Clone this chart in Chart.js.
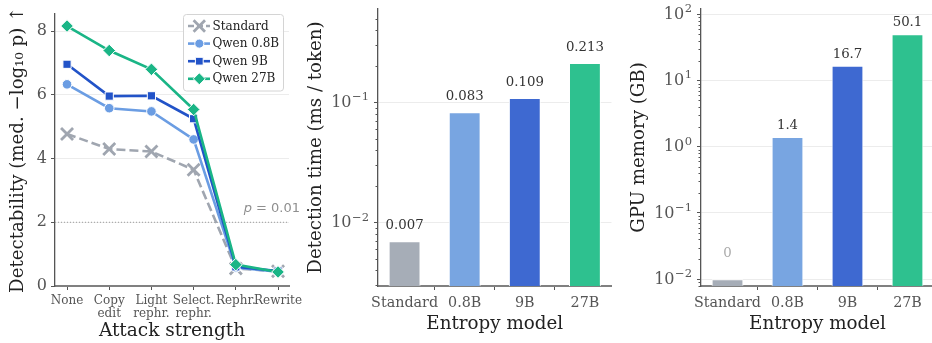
<!DOCTYPE html>
<html>
<head>
<meta charset="utf-8">
<script src="https://cdn.jsdelivr.net/npm/chart.js@4/dist/chart.umd.min.js"></script>
<style>
  html, body { margin: 0; padding: 0; background: #fff; }
  #wrap { position: relative; width: 932px; height: 343px; overflow: hidden; }
  canvas { position: absolute; top: 0; }
</style>
</head>
<body>
<div id="wrap">
  <canvas id="c1" width="310" height="343" style="left:0px"></canvas>
  <canvas id="c2" width="320" height="343" style="left:300px"></canvas>
  <canvas id="c3" width="320" height="343" style="left:620px"></canvas>
</div>
<script>
// ---------------- DATA ----------------
const attackLabels = [['None'], ['Copy', 'edit'], ['Light', 'rephr.'], ['Select.', 'rephr.'], ['Rephr.'], ['Rewrite']];
const seriesNames = ['Standard', 'Qwen 0.8B', 'Qwen 9B', 'Qwen 27B'];
const detStandard = [4.77, 4.30, 4.22, 3.65, 0.55, 0.46];
const detQwen08 = [6.33, 5.58, 5.48, 4.60, 0.58, 0.45];
const detQwen9 = [6.96, 5.96, 5.97, 5.25, 0.60, 0.47];
const detQwen27 = [8.16, 7.39, 6.80, 5.54, 0.67, 0.44];
const detYTicks = [0, 2, 4, 6, 8];
const pThresholdY = 2;          // -log10(0.01)
const pThresholdLabel = '0.01';

const modelLabels = ['Standard', '0.8B', '9B', '27B'];
const detectionTimeMs = [0.007, 0.083, 0.109, 0.213];
const gpuMemoryGB = [0, 1.4, 16.7, 50.1];
const gpuZeroFloor = 0.01;       // where a 0 GB bar is drawn on the log axis
const timeMajorTicks = [0.01, 0.1];
const memMajorTicks = [0.01, 0.1, 1, 10, 100];

// ---------------- STYLE ----------------
const SERIF = "'DejaVu Serif', 'Liberation Serif', serif";
const SANS = "'DejaVu Sans', sans-serif";
const lineColors = ['#a0a6b0', '#6b9de3', '#2253c8', '#1ab586'];
const barColors = ['#a6adb7', '#78a5e1', '#3e69d1', '#2ec18f'];
const TICK_COLOR = '#555';
const TEXT_COLOR = '#222';

function drawMarker(ctx, style, x, y, r, fill, stroke, bw) {
  if (Chart.helpers && Chart.helpers.drawPoint) {
    ctx.save();
    ctx.fillStyle = fill; ctx.strokeStyle = stroke; ctx.lineWidth = bw;
    Chart.helpers.drawPoint(ctx, {pointStyle: style, radius: r, rotation: 0, borderWidth: bw}, x, y);
    ctx.restore();
  }
}

// ---------------- PANEL 1 ----------------
const detSeries = [detStandard, detQwen08, detQwen9, detQwen27];
const pointStyles = ['crossRot', 'circle', 'rect', 'rectRot'];
const pointRadii = [8.5, 4.8, 5.8, 6.3];
const datasets1 = detSeries.map((vals, k) => ({
  label: seriesNames[k],
  data: vals.map((v, i) => ({x: i, y: v})),
  borderColor: lineColors[k],
  backgroundColor: lineColors[k],
  borderWidth: 2.6,
  borderDash: k === 0 ? [9, 4] : [],
  pointStyle: pointStyles[k],
  pointRadius: pointRadii[k],
  pointHoverRadius: pointRadii[k],
  pointBackgroundColor: lineColors[k],
  pointBorderColor: k === 0 ? lineColors[k] : '#ffffff',
  pointBorderWidth: k === 0 ? 2.8 : 1,
  order: 3 - k,
  tension: 0
}));

const thresholdPlugin = {
  id: 'threshold',
  beforeDatasetsDraw(chart) {
    const {ctx, chartArea, scales} = chart;
    const y = scales.y.getPixelForValue(pThresholdY);
    ctx.save();
    ctx.strokeStyle = '#9a9a9a';
    ctx.lineWidth = 1;
    ctx.setLineDash([1, 2]);
    ctx.beginPath();
    ctx.moveTo(chartArea.left, y);
    ctx.lineTo(chartArea.right, y);
    ctx.stroke();
    ctx.setLineDash([]);
    ctx.fillStyle = '#8f8f8f';
    ctx.textBaseline = 'alphabetic';
    ctx.textAlign = 'left';
    const rest = ' = ' + pThresholdLabel;
    ctx.font = '13px ' + SANS;
    const wRest = ctx.measureText(rest).width;
    ctx.font = 'italic 13px ' + SANS;
    const wP = ctx.measureText('p').width;
    const xEnd = chartArea.right + 11;
    const ty = y - 10;
    ctx.fillText('p', xEnd - wRest - wP, ty);
    ctx.font = '13px ' + SANS;
    ctx.fillText(rest, xEnd - wRest, ty);
    ctx.restore();
  }
};

const legendPlugin = {
  id: 'customLegend',
  afterDraw(chart) {
    const {ctx} = chart;
    const bx = 183, by = 14.5, bw = 100, bh = 76.5;
    ctx.save();
    ctx.fillStyle = 'rgba(255,255,255,0.9)';
    ctx.strokeStyle = '#d4d4d4';
    ctx.lineWidth = 1;
    ctx.beginPath();
    if (ctx.roundRect) ctx.roundRect(bx + 0.5, by, bw, bh, 3); else ctx.rect(bx + 0.5, by, bw, bh);
    ctx.fill();
    ctx.stroke();
    chart.data.datasets.forEach((ds, k) => {
      const y = 26 + k * 17.6;
      ctx.strokeStyle = ds.borderColor;
      ctx.lineWidth = 2.6;
      ctx.setLineDash(ds.borderDash && ds.borderDash.length ? [6, 3] : []);
      ctx.beginPath();
      ctx.moveTo(188, y);
      ctx.lineTo(210, y);
      ctx.stroke();
      ctx.setLineDash([]);
      drawMarker(ctx, ds.pointStyle, 199.3, y, ds.pointRadius * 0.95, ds.pointBackgroundColor, ds.pointBorderColor, ds.pointBorderWidth);
      ctx.fillStyle = TEXT_COLOR;
      ctx.font = '12px ' + SERIF;
      ctx.textAlign = 'left';
      ctx.textBaseline = 'middle';
      ctx.fillText(ds.label, 212.5, y + 0.5);
    });
    ctx.restore();
  }
};

new Chart(document.getElementById('c1'), {
  type: 'line',
  data: {datasets: datasets1},
  plugins: [thresholdPlugin, legendPlugin],
  options: {
    responsive: false,
    animation: false,
    devicePixelRatio: 1,
    layout: {padding: {top: 9, right: 21, left: 0, bottom: 0}},
    plugins: {legend: {display: false}, tooltip: {enabled: false}},
    scales: {
      x: {
        type: 'linear',
        min: -0.285,
        max: 5.26,
        afterBuildTicks: (scale) => { scale.ticks = attackLabels.map((_, i) => ({value: i})); },
        afterFit: (scale) => { scale.height = 57; },
        ticks: {
          autoSkip: false,
          maxRotation: 0,
          padding: 4,
          color: TICK_COLOR,
          font: {family: SERIF, size: 12, lineHeight: 1.1},
          callback: (v) => attackLabels[v]
        },
        grid: {drawOnChartArea: false, tickLength: 4, tickColor: TICK_COLOR, tickWidth: 1},
        border: {display: true, color: '#808080', width: 2},
        title: {display: true, text: 'Attack strength', color: TEXT_COLOR, font: {family: SERIF, size: 18.5}, padding: {top: 0, bottom: 1}}
      },
      y: {
        type: 'linear',
        min: 0,
        max: 8.55,
        afterBuildTicks: (scale) => { scale.ticks = detYTicks.map(v => ({value: v})); },
        afterFit: (scale) => { scale.width = 55; },
        ticks: {color: TICK_COLOR, font: {family: SERIF, size: 16}, padding: 4},
        grid: {color: '#ececec', lineWidth: 1, tickLength: 4, tickColor: TICK_COLOR},
        border: {display: true, color: '#555', width: 1.3},
        title: {display: true, text: 'Detectability (med. \u2212log\u2081\u2080 p) \u2191', color: TEXT_COLOR, font: {family: SERIF, size: 18.2}, padding: {top: 7, bottom: 0}}
      }
    }
  }
});

// ---------------- BAR PANELS ----------------
function logAxisPlugin(minorValues) {
  return {
    id: 'logAxis',
    afterDraw(chart) {
      const s = chart.scales.y;
      const {ctx} = chart;
      ctx.save();
      ctx.strokeStyle = TICK_COLOR;
      ctx.lineWidth = 1;
      minorValues.forEach(v => {
        if (v < s.min || v > s.max) return;
        const y = Math.round(s.getPixelForValue(v)) + 0.5;
        ctx.beginPath();
        ctx.moveTo(s.right - 2.5, y);
        ctx.lineTo(s.right, y);
        ctx.stroke();
      });
      ctx.fillStyle = TICK_COLOR;
      ctx.textBaseline = 'middle';
      s.ticks.forEach(t => {
        const y = s.getPixelForValue(t.value);
        const e = Math.round(Math.log10(t.value));
        const expText = e < 0 ? '\u2212' + Math.abs(e) : String(e);
        ctx.font = '11.5px ' + SERIF;
        const wE = ctx.measureText(expText).width;
        ctx.font = '16px ' + SERIF;
        const wB = ctx.measureText('10').width;
        const xr = s.right - 9;
        ctx.textAlign = 'left';
        ctx.fillText('10', xr - wE - wB - 0.5, y + 0.5);
        ctx.font = '11.5px ' + SERIF;
        ctx.fillText(expText, xr - wE, y - 5);
      });
      ctx.restore();
    }
  };
}
function barLabelPlugin(texts, colors, offsets) {
  return {
    id: 'barLabels',
    afterDatasetsDraw(chart) {
      const {ctx} = chart;
      const meta = chart.getDatasetMeta(0);
      ctx.save();
      ctx.font = '13.3px ' + SERIF;
      ctx.textAlign = 'center';
      ctx.textBaseline = 'middle';
      meta.data.forEach((bar, i) => {
        ctx.fillStyle = colors[i];
        ctx.fillText(texts[i], bar.x, bar.y - offsets[i]);
      });
      ctx.restore();
    }
  };
}
function minorList(lo, hi) {
  const out = [];
  for (let e = lo; e <= hi; e++) for (let m = 2; m <= 9; m++) out.push(m * Math.pow(10, e));
  return out;
}

function barChart(id, plotted, yMin, yMax, majors, yWidth, rightPad, yTitle, titlePad, labelTexts, labelColors, labelOffsets, minors) {
  return new Chart(document.getElementById(id), {
    type: 'bar',
    data: {
      datasets: [{
        data: plotted.map((v, i) => ({x: i, y: v})),
        backgroundColor: barColors,
        borderColor: '#ffffff',
        borderWidth: {left: 1, right: 1, top: 1, bottom: 0},
        borderSkipped: 'bottom',
        categoryPercentage: 1,
        barPercentage: 0.53
      }]
    },
    plugins: [logAxisPlugin(minors), barLabelPlugin(labelTexts, labelColors, labelOffsets)],
    options: {
      responsive: false,
      animation: false,
      devicePixelRatio: 1,
      layout: {padding: {top: 9, right: rightPad, left: 0, bottom: 0}},
      plugins: {legend: {display: false}, tooltip: {enabled: false}},
      scales: {
        x: {
          type: 'linear',
          min: -0.442,
          max: 3.442,
          offset: false,
          afterBuildTicks: (scale) => { scale.ticks = modelLabels.map((_, i) => ({value: i})); },
          afterFit: (scale) => { scale.height = 57; },
          ticks: {color: TICK_COLOR, font: {family: SERIF, size: 14.3}, padding: 5, maxRotation: 0, autoSkip: false,
                  callback: (v) => modelLabels[v]},
          grid: {drawOnChartArea: false, tickLength: 4, tickColor: TICK_COLOR},
          border: {display: true, color: '#808080', width: 2},
          title: {display: true, text: 'Entropy model', color: TEXT_COLOR, font: {family: SERIF, size: 18.3}, padding: {top: 0, bottom: 8}}
        },
        y: {
          type: 'logarithmic',
          min: yMin,
          max: yMax,
          afterBuildTicks: (scale) => { scale.ticks = majors.map(v => ({value: v})); },
          afterFit: (scale) => { scale.width = yWidth; },
          ticks: {display: false},
          grid: {color: '#ececec', lineWidth: 1, tickLength: 4, tickColor: TICK_COLOR},
          border: {display: true, color: '#555', width: 1.3},
          title: {display: true, text: yTitle, color: TEXT_COLOR, font: {family: SERIF, size: 18.2}, padding: {top: titlePad, bottom: 0}}
        }
      }
    }
  });
}

barChart('c2', detectionTimeMs, 0.00297, 0.6, timeMajorTicks, 78, 8.5,
  'Detection time (ms / token)', 5,
  detectionTimeMs.map(v => v.toFixed(3)),
  detectionTimeMs.map(() => '#333'),
  detectionTimeMs.map(() => 15.5),
  minorList(-3, -1));

barChart('c3', gpuMemoryGB.map(v => v === 0 ? gpuZeroFloor : v), 0.0079, 120, memMajorTicks, 81, 6,
  'GPU memory (GB)', 8,
  gpuMemoryGB.map(v => String(v)),
  gpuMemoryGB.map(v => v === 0 ? '#aaaaaa' : '#333'),
  gpuMemoryGB.map(v => v === 0 ? 26 : 11.5),
  minorList(-3, 2));
</script>
</body>
</html>
